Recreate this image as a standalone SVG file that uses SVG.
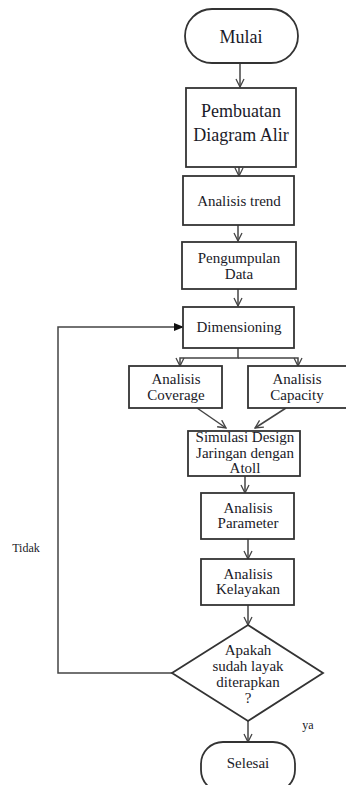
<svg xmlns="http://www.w3.org/2000/svg" width="346" height="785" viewBox="0 0 346 785">
<style>
.b{fill:#fff;stroke:#333;stroke-width:1.8}
.t{font-family:'Liberation Serif','Times New Roman',Tinos,'DejaVu Serif',serif;fill:#1a1a28;text-anchor:middle;dominant-baseline:central}
.c{fill:none;stroke:#444;stroke-width:1.5}
</style>
<defs>
<marker id="v" markerWidth="10" markerHeight="10" refX="9" refY="5" orient="auto" markerUnits="userSpaceOnUse">
<path d="M1,1 L9,5 L1,9" fill="none" stroke="#444" stroke-width="1.3"/>
</marker>
<marker id="f" markerWidth="10" markerHeight="10" refX="9" refY="5" orient="auto" markerUnits="userSpaceOnUse">
<path d="M0,1 L10,5 L0,9 Z" fill="#111"/>
</marker>
</defs>
<rect width="346" height="785" fill="#fff"/>
<g id="connectors">
<line class="c" x1="240" y1="63" x2="240" y2="87" marker-end="url(#v)"/>
<line class="c" x1="239" y1="167" x2="239" y2="176" marker-end="url(#v)"/>
<line class="c" x1="238" y1="225" x2="238" y2="241" marker-end="url(#v)"/>
<line class="c" x1="238" y1="289" x2="238" y2="306" marker-end="url(#v)"/>
<polyline class="c" points="238,348 238,358 180,358 180,366" marker-end="url(#v)"/>
<polyline class="c" points="238,358 298,358 298,366" marker-end="url(#v)"/>
<line class="c" x1="197" y1="408" x2="226" y2="428" marker-end="url(#v)"/>
<line class="c" x1="286" y1="408" x2="255" y2="428" marker-end="url(#v)"/>
<line class="c" x1="245" y1="476" x2="245" y2="493" marker-end="url(#v)"/>
<line class="c" x1="248" y1="539" x2="248" y2="559" marker-end="url(#v)"/>
<line class="c" x1="248" y1="605" x2="248" y2="625" marker-end="url(#v)"/>
<line class="c" x1="248" y1="721" x2="248" y2="742" marker-end="url(#v)"/>
<polyline class="c" points="172,673 58,673 58,327 183,327" marker-end="url(#f)"/>
<text class="t" x="26" y="548" font-size="12" font-family="Liberation Serif, serif">Tidak</text>
<text class="t" x="308" y="725" font-size="12" font-family="Liberation Serif, serif">ya</text>
</g>
<g id="mulai">
<rect class="b" x="185" y="9" width="113" height="54" rx="27" ry="27"/>
<text class="t" x="241" y="37" font-size="18" font-family="Liberation Serif, serif">Mulai</text>
</g>
<g id="pembuatan">
<rect class="b" x="186" y="88" width="110" height="79" stroke-width="3"/>
<text class="t" x="241" y="111" font-size="18" font-family="Liberation Serif, serif">Pembuatan</text>
<text class="t" x="241" y="135" font-size="18" font-family="Liberation Serif, serif">Diagram Alir</text>
</g>
<g id="analisis-trend">
<rect class="b" x="183" y="176" width="111" height="49"/>
<text class="t" x="239" y="201" font-size="15" font-family="Liberation Serif, serif">Analisis trend</text>
</g>
<g id="pengumpulan">
<rect class="b" x="182" y="242" width="114" height="47"/>
<text class="t" x="239" y="258" font-size="15" font-family="Liberation Serif, serif">Pengumpulan</text>
<text class="t" x="239" y="274" font-size="15" font-family="Liberation Serif, serif">Data</text>
</g>
<g id="dimensioning">
<rect class="b" x="183" y="307" width="111" height="41"/>
<text class="t" x="239" y="327" font-size="15" font-family="Liberation Serif, serif">Dimensioning</text>
</g>
<g id="coverage">
<rect class="b" x="129" y="366" width="93" height="42"/>
<text class="t" x="176" y="379" font-size="15" font-family="Liberation Serif, serif">Analisis</text>
<text class="t" x="176" y="395" font-size="15" font-family="Liberation Serif, serif">Coverage</text>
</g>
<g id="capacity">
<rect class="b" x="248" y="366" width="99" height="42"/>
<text class="t" x="297" y="379" font-size="15" font-family="Liberation Serif, serif">Analisis</text>
<text class="t" x="297" y="395" font-size="15" font-family="Liberation Serif, serif">Capacity</text>
</g>
<g id="simulasi">
<rect class="b" x="188" y="431" width="112" height="45"/>
<text class="t" x="245" y="437" font-size="15" font-family="Liberation Serif, serif">Simulasi Design</text>
<text class="t" x="245" y="453" font-size="15" font-family="Liberation Serif, serif">Jaringan dengan</text>
<text class="t" x="245" y="468" font-size="15" font-family="Liberation Serif, serif">Atoll</text>
</g>
<g id="parameter">
<rect class="b" x="201" y="493" width="93" height="46"/>
<text class="t" x="248" y="508" font-size="15" font-family="Liberation Serif, serif">Analisis</text>
<text class="t" x="248" y="523" font-size="15" font-family="Liberation Serif, serif">Parameter</text>
</g>
<g id="kelayakan">
<rect class="b" x="201" y="559" width="93" height="46"/>
<text class="t" x="248" y="574" font-size="15" font-family="Liberation Serif, serif">Analisis</text>
<text class="t" x="248" y="589" font-size="15" font-family="Liberation Serif, serif">Kelayakan</text>
</g>
<g id="keputusan">
<polygon class="b" points="248,625 323,673 248,721 172,673"/>
<text class="t" x="248" y="650" font-size="15" font-family="Liberation Serif, serif">Apakah</text>
<text class="t" x="248" y="666" font-size="15" font-family="Liberation Serif, serif">sudah layak</text>
<text class="t" x="248" y="682" font-size="15" font-family="Liberation Serif, serif">diterapkan</text>
<text class="t" x="248" y="698" font-size="15" font-family="Liberation Serif, serif">?</text>
</g>
<g id="selesai">
<rect class="b" x="201" y="742" width="94" height="50" rx="22" ry="22"/>
<text class="t" x="248" y="763" font-size="15" font-family="Liberation Serif, serif">Selesai</text>
</g>
</svg>
